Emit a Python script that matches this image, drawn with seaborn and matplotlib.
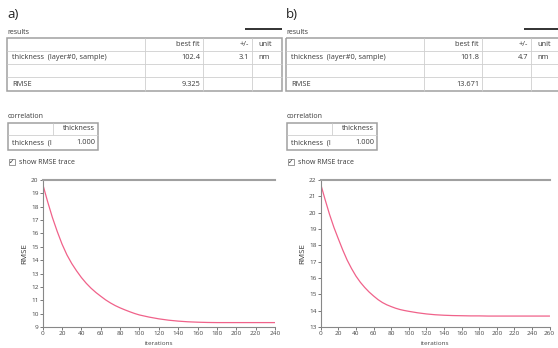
import numpy as np
import pandas as pd
import matplotlib
matplotlib.use("Agg")
import matplotlib.pyplot as plt
import seaborn as sns
from matplotlib.patches import Rectangle

# ---------------- data ----------------
panel_labels = ["a)", "b)"]
param_name = "thickness  (layer#0, sample)"
best_fit = ["102.4", "101.8"]
uncertainty = ["3.1", "4.7"]
unit = ["nm", "nm"]
rmse_final = ["9.325", "13.671"]
corr_value = ["1.000", "1.000"]

iters_a = [0, 5, 10, 15, 20, 25, 30, 35, 40, 45, 50, 55, 60, 65, 70, 75, 80, 85, 90, 95,
           100, 110, 120, 130, 140, 150, 160, 170, 180, 190, 200, 210, 220, 230, 240]
rmse_a = [19.7, 18.4, 17.2, 16.15, 15.2, 14.4, 13.75, 13.2, 12.7, 12.27, 11.9, 11.58,
          11.3, 11.03, 10.8, 10.6, 10.43, 10.28, 10.14, 10.01,
          9.9, 9.74, 9.61, 9.51, 9.44, 9.39, 9.36, 9.34, 9.33, 9.33, 9.33, 9.33, 9.33, 9.33, 9.33]
iters_b = [0, 5, 10, 15, 20, 25, 30, 35, 40, 45, 50, 55, 60, 65, 70, 75, 80, 85, 90, 95,
           100, 110, 120, 130, 140, 150, 160, 170, 180, 190, 200, 210, 220, 230, 240, 250, 260]
rmse_b = [21.75, 20.8, 19.9, 19.1, 18.4, 17.72, 17.1, 16.58, 16.12, 15.74, 15.42, 15.14,
          14.9, 14.68, 14.5, 14.36, 14.25, 14.15, 14.07, 14.01,
          13.96, 13.87, 13.8, 13.75, 13.72, 13.7, 13.69, 13.68, 13.68, 13.67, 13.67,
          13.67, 13.67, 13.67, 13.67, 13.67, 13.67]
xticks_a = list(range(0, 241, 20))
xticks_b = list(range(0, 261, 20))
yticks_a = list(range(9, 21))
yticks_b = list(range(13, 23))

sns.set_theme(style="white")
plt.rcParams['font.family'] = ['Open Sans', 'DejaVu Sans']

W, H = 558, 348
fig = plt.figure(figsize=(W / 100, H / 100), dpi=100)
fig.patch.set_facecolor("white")

# overlay axes in pixel coordinates
ov = fig.add_axes([0, 0, 1, 1])
ov.set_xlim(0, W)
ov.set_ylim(H, 0)
ov.axis("off")

TXT = "#3a3a3a"
GRID = "#cfcfcf"
BORDER = "#a0a0a0"
FS = 5.3
FSS = 5.0


def line(x0, y0, x1, y1, c=GRID, lw=0.6):
    ov.plot([x0, x1], [y0, y1], color=c, lw=lw, solid_capstyle="butt")


def panel(ox, k):
    ov.text(ox + 7, 14, panel_labels[k], fontsize=9.5, color="#222", va="center", ha="left")
    ov.text(ox + 7, 32, "results", fontsize=FSS, color=TXT, va="center", ha="left")
    line(ox + 245, 28.5, ox + 282, 28.5, c="#222", lw=1.3)
    # results table
    x0, x1, x2, x3, x4 = ox + 7, ox + 145, ox + 203, ox + 252, ox + 282
    ys = [38, 51, 64, 77, 91]
    for y in ys[1:-1]:
        line(x0, y, x4, y)
    for xx in (x1, x2, x3):
        line(xx, ys[0], xx, ys[-1])
    ov.add_patch(Rectangle((x0, ys[0]), x4 - x0, ys[-1] - ys[0], fill=False,
                           ec=BORDER, lw=1.1))
    ymid = [(ys[i] + ys[i + 1]) / 2 for i in range(4)]
    ov.text(x2 - 3, ymid[0], "best fit", fontsize=FS, color=TXT, ha="right", va="center")
    ov.text(x3 - 3, ymid[0], "+/-", fontsize=FS, color=TXT, ha="right", va="center")
    ov.text(x3 + 6, ymid[0], "unit", fontsize=FS, color=TXT, ha="left", va="center")
    ov.text(x0 + 5, ymid[1], param_name, fontsize=FS, color=TXT, ha="left", va="center")
    ov.text(x2 - 3, ymid[1], best_fit[k], fontsize=FS, color=TXT, ha="right", va="center")
    ov.text(x3 - 3, ymid[1], uncertainty[k], fontsize=FS, color=TXT, ha="right", va="center")
    ov.text(x3 + 6, ymid[1], unit[k], fontsize=FS, color=TXT, ha="left", va="center")
    ov.text(x0 + 5, ymid[3], "RMSE", fontsize=FS, color=TXT, ha="left", va="center")
    ov.text(x2 - 3, ymid[3], rmse_final[k], fontsize=FS, color=TXT, ha="right", va="center")
    # correlation
    ov.text(ox + 8, 116, "correlation", fontsize=FSS, color=TXT, ha="left", va="center")
    cx0, cx1, cx2 = ox + 8, ox + 53, ox + 98
    cy0, cy1, cy2 = 123, 135, 150
    line(cx0, cy1, cx2, cy1)
    line(cx1, cy0, cx1, cy1)
    ov.add_patch(Rectangle((cx0, cy0), cx2 - cx0, cy2 - cy0, fill=False, ec=BORDER, lw=1.1))
    ov.text(cx2 - 3, (cy0 + cy1) / 2, "thickness", fontsize=FS, color=TXT, ha="right", va="center")
    ov.text(cx0 + 4, (cy1 + cy2) / 2, "thickness  (l", fontsize=FS, color=TXT, ha="left", va="center")
    ov.text(cx2 - 3, (cy1 + cy2) / 2, corr_value[k], fontsize=FS, color=TXT, ha="right", va="center")
    # checkbox
    ov.add_patch(Rectangle((ox + 8.5, 158.5), 6.5, 6.5, fill=False, ec="#888", lw=0.6))
    ov.text(ox + 11.7, 162, "\u2713", fontsize=4.8, color="#333", ha="center", va="center",
            family=["DejaVu Sans"])
    ov.text(ox + 19, 162, "show RMSE trace", fontsize=FSS, color=TXT, ha="left", va="center")


panel(0, 0)
panel(279, 1)


def plot_axes(left_px, right_px, iters, vals, xticks, yticks, xmax, ymin, ymax):
    top_px, bot_px = 180, 327
    ax = fig.add_axes([left_px / W, 1 - bot_px / H, (right_px - left_px) / W,
                       (bot_px - top_px) / H])
    df = pd.DataFrame({"iterations": iters, "RMSE": vals})
    sns.lineplot(data=df, x="iterations", y="RMSE", ax=ax, color="#f0628a", lw=0.9)
    ax.set_xlim(0, xmax)
    ax.set_ylim(ymin, ymax)
    ax.set_xticks(xticks)
    ax.set_yticks(yticks)
    ax.tick_params(axis="both", labelsize=4.6, colors="#444", length=2, width=0.5, pad=1,
                   direction="out", left=True, bottom=True)
    for s in ("left", "bottom"):
        ax.spines[s].set_color("#888")
        ax.spines[s].set_linewidth(0.8)
    ax.spines["top"].set_color("#a0a0a0")
    ax.spines["top"].set_linewidth(1.5)
    ax.spines["right"].set_visible(False)
    ax.set_xlabel("iterations", fontsize=4.6, color="#444", labelpad=3.5)
    ax.set_ylabel("RMSE", fontsize=5.8, color="#333", labelpad=2)
    ax.set_facecolor("white")
    return ax


plot_axes(42.7, 275, iters_a, rmse_a, xticks_a, yticks_a, 240, 9, 20)
plot_axes(320.7, 549.7, iters_b, rmse_b, xticks_b, yticks_b, 260, 13, 22)

fig.savefig("out.png", dpi=100, facecolor="white")
